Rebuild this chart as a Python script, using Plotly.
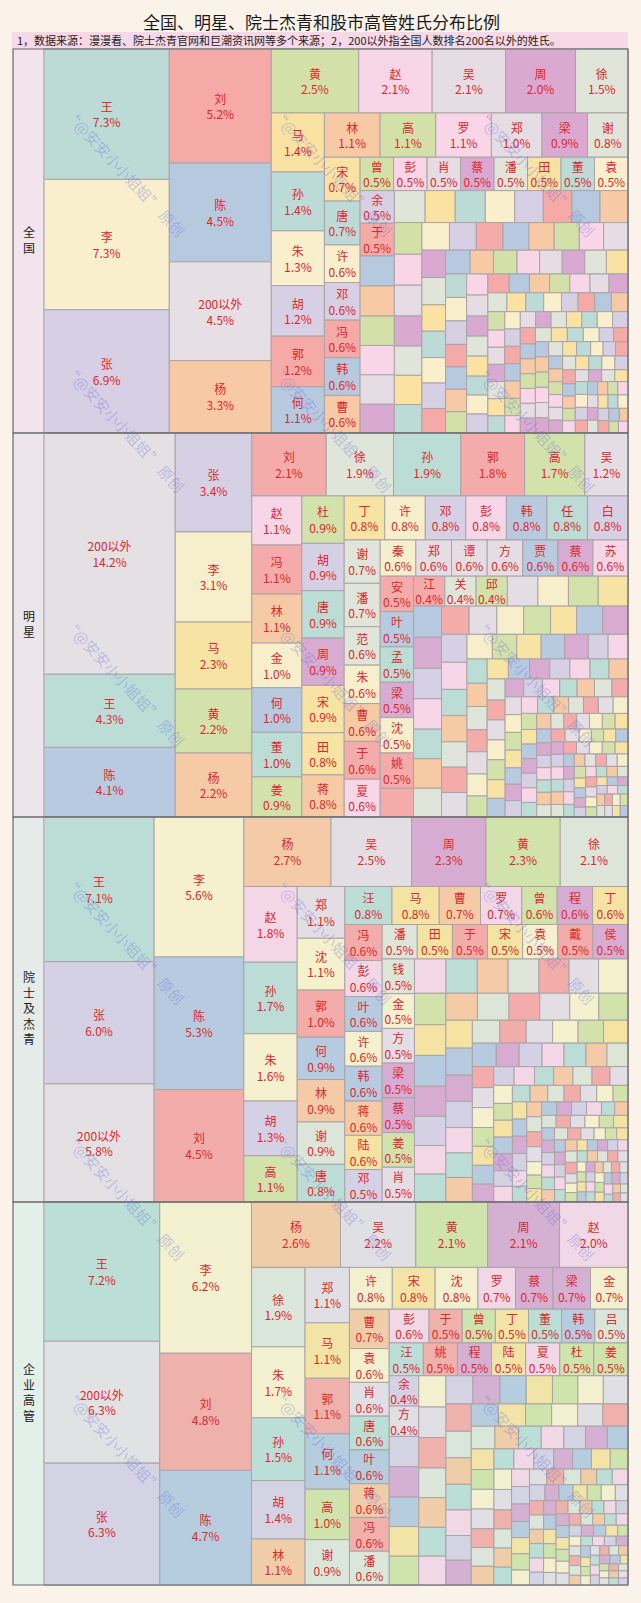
import plotly.graph_objects as go

W, H = 641, 1603
FONT = "Noto Sans CJK SC, Noto Sans, sans-serif"

TITLE = "全国、明星、院士杰青和股市高管姓氏分布比例"
SUBTITLE = "1，数据来源：漫漫看、院士杰青官网和巨潮资讯网等多个来源；2，200以外指全国人数排名200名以外的姓氏。"
PANEL_NAMES = ["全国", "明星", "院士及杰青", "企业高管"]
WATERMARK = "“@安安小小姐姐” 原创"

# ---------------- data (percent) ----------------
qg_names = ["王", "李", "张", "刘", "陈", "200以外", "杨", "黄", "赵", "吴", "周", "徐",
            "马", "孙", "朱", "胡", "郭", "何", "林", "高", "罗", "郑", "梁", "谢",
            "宋", "唐", "许", "邓", "冯", "韩", "曹", "曾", "彭", "肖", "蔡", "潘",
            "田", "董", "袁", "余", "于"]
qg_vals = [7.3, 7.3, 6.9, 5.2, 4.5, 4.5, 3.3, 2.5, 2.1, 2.1, 2.0, 1.5,
           1.4, 1.4, 1.3, 1.2, 1.2, 1.1, 1.1, 1.1, 1.1, 1.0, 0.9, 0.8,
           0.7, 0.7, 0.6, 0.6, 0.6, 0.6, 0.6, 0.5, 0.5, 0.5, 0.5, 0.5,
           0.5, 0.5, 0.5, 0.5, 0.5]
qg_small = [0.46, 0.46, 0.45, 0.45, 0.45, 0.44, 0.44, 0.43, 0.43, 0.42,
            0.41, 0.41, 0.40, 0.40, 0.39, 0.38, 0.38, 0.37, 0.36, 0.36,
            0.35, 0.34, 0.33, 0.33, 0.32, 0.31, 0.31, 0.30, 0.30, 0.29,
            0.29, 0.28, 0.28, 0.27, 0.27, 0.26, 0.26, 0.25, 0.25, 0.24,
            0.24, 0.24, 0.23, 0.23, 0.22, 0.22, 0.22, 0.21, 0.21, 0.21,
            0.20, 0.20, 0.20, 0.19, 0.19, 0.19, 0.18, 0.18, 0.18, 0.18,
            0.17, 0.17, 0.17, 0.17, 0.16, 0.16, 0.16, 0.16, 0.15, 0.15,
            0.14, 0.14, 0.14, 0.14, 0.14, 0.13, 0.13, 0.13, 0.13, 0.13,
            0.13, 0.12, 0.12, 0.12, 0.12, 0.12, 0.12, 0.12, 0.11, 0.11,
            0.11, 0.11, 0.11, 0.11, 0.11, 0.11, 0.10, 0.10, 0.10, 0.10,
            0.10, 0.10, 0.10, 0.10, 0.10, 0.10, 0.09, 0.09, 0.09, 0.09,
            0.09, 0.09, 0.09, 0.09, 0.09, 0.09, 0.09, 0.08, 0.08, 0.08,
            0.08, 0.08, 0.08, 0.08, 0.08, 0.08, 0.08, 0.08, 0.08, 0.08,
            0.08, 0.08, 0.07, 0.07, 0.07, 0.07, 0.07, 0.07, 0.07, 0.07,
            0.07, 0.07, 0.07, 0.07, 0.06, 0.06, 0.06, 0.06, 0.06, 0.06,
            0.06, 0.06, 0.06, 0.06, 0.06, 0.06, 0.06, 0.05, 0.05, 0.05]

mx_names = ["200以外", "王", "陈", "张", "李", "马", "黄", "杨", "刘", "徐", "孙", "郭",
            "高", "吴", "赵", "冯", "林", "金", "何", "董", "姜", "杜", "胡", "唐",
            "周", "宋", "田", "蒋", "丁", "许", "邓", "彭", "韩", "任", "白", "谢",
            "潘", "范", "朱", "曹", "于", "夏", "秦", "郑", "谭", "方", "贾", "蔡",
            "苏", "安", "叶", "孟", "梁", "沈", "姚", "江", "关", "邱"]
mx_vals = [14.2, 4.3, 4.1, 3.4, 3.1, 2.3, 2.2, 2.2, 2.1, 1.9, 1.9, 1.8,
           1.7, 1.22, 1.1, 1.1, 1.1, 1.0, 1.0, 1.0, 0.9, 0.9, 0.9, 0.9,
           0.9, 0.9, 0.8, 0.8, 0.8, 0.8, 0.8, 0.8, 0.8, 0.8, 0.8, 0.7,
           0.7, 0.62, 0.62, 0.61, 0.61, 0.61, 0.58, 0.58, 0.58, 0.58, 0.57, 0.57,
           0.57, 0.53, 0.53, 0.53, 0.53, 0.53, 0.53, 0.42, 0.42, 0.42]
mx_small = [0.43, 0.41, 0.41, 0.40, 0.40, 0.39, 0.39, 0.38, 0.38, 0.37, 0.37,
            0.36, 0.35, 0.35, 0.34, 0.34, 0.33, 0.33, 0.32, 0.32, 0.31,
            0.30, 0.30, 0.29, 0.29, 0.28, 0.28, 0.27, 0.27, 0.26, 0.26,
            0.22, 0.22, 0.22, 0.21, 0.21, 0.20, 0.20, 0.20, 0.19, 0.19,
            0.19, 0.18, 0.18, 0.18, 0.17, 0.17, 0.17, 0.16, 0.16, 0.16,
            0.16, 0.15, 0.15, 0.15, 0.15, 0.14, 0.14, 0.14, 0.14, 0.13,
            0.13, 0.13, 0.13, 0.13, 0.12, 0.12, 0.12, 0.12, 0.12, 0.11,
            0.11, 0.11, 0.11, 0.11, 0.11, 0.10, 0.10, 0.10, 0.10, 0.10,
            0.10, 0.10, 0.09, 0.09, 0.09, 0.09, 0.09, 0.09, 0.09, 0.08,
            0.08, 0.08, 0.08, 0.08, 0.08, 0.08, 0.08, 0.07, 0.07, 0.07,
            0.07, 0.07, 0.07, 0.07, 0.07, 0.07, 0.07, 0.07, 0.07, 0.07,
            0.07, 0.07, 0.06, 0.06, 0.06, 0.06, 0.06, 0.06, 0.06, 0.06,
            0.06, 0.06, 0.06, 0.05, 0.05, 0.05, 0.05, 0.05, 0.05, 0.05,
            0.05, 0.05, 0.05, 0.05, 0.05, 0.04, 0.04, 0.04, 0.04, 0.04,
            0.04, 0.04, 0.04, 0.04, 0.04, 0.04, 0.04, 0.04, 0.04]

ys_names = ["王", "张", "200以外", "李", "陈", "刘", "杨", "吴", "周", "黄", "徐", "赵",
            "孙", "朱", "胡", "高", "郑", "沈", "郭", "何", "林", "谢", "唐", "汪",
            "马", "曹", "罗", "曾", "程", "丁", "冯", "彭", "叶", "许", "韩", "蒋",
            "陆", "邓", "潘", "田", "于", "宋", "袁", "戴", "侯", "钱", "金", "方",
            "梁", "蔡", "姜", "肖"]
ys_vals = [7.1, 6.0, 5.8, 5.6, 5.3, 4.5, 2.7, 2.5, 2.3, 2.3, 2.1, 1.8,
           1.7, 1.6, 1.3, 1.1, 1.1, 1.1, 1.0, 0.9, 0.9, 0.9, 0.8, 0.8,
           0.8, 0.7, 0.7, 0.6, 0.6, 0.6, 0.6, 0.6, 0.58, 0.58, 0.58, 0.57,
           0.57, 0.54, 0.54, 0.54, 0.54, 0.54, 0.54, 0.54, 0.54, 0.5, 0.5, 0.5,
           0.5, 0.5, 0.5, 0.5]
ys_small = [0.48, 0.48, 0.47, 0.47, 0.46, 0.45, 0.45, 0.44, 0.43, 0.43,
            0.42, 0.41, 0.40, 0.39, 0.38, 0.38, 0.37, 0.36, 0.35, 0.35,
            0.33, 0.32, 0.31, 0.31, 0.30, 0.29, 0.29, 0.28, 0.27, 0.27,
            0.26, 0.26, 0.25, 0.25, 0.24, 0.24, 0.23, 0.23, 0.22, 0.22,
            0.20, 0.19, 0.19, 0.18, 0.18, 0.18, 0.17, 0.17, 0.17, 0.16,
            0.16, 0.16, 0.15, 0.15, 0.15, 0.14, 0.14, 0.14, 0.14, 0.13,
            0.13, 0.13, 0.13, 0.12, 0.12, 0.12, 0.12, 0.11, 0.11, 0.11,
            0.11, 0.11, 0.10, 0.10, 0.10, 0.10, 0.10, 0.10, 0.09, 0.09,
            0.09, 0.09, 0.09, 0.09, 0.09, 0.08, 0.08, 0.08, 0.08, 0.08,
            0.08, 0.08, 0.08, 0.07, 0.07, 0.07, 0.07, 0.07, 0.07, 0.07,
            0.07, 0.07, 0.06, 0.06, 0.06, 0.06, 0.06, 0.06, 0.06, 0.06,
            0.06, 0.06, 0.06, 0.05, 0.05, 0.05, 0.05, 0.05, 0.05, 0.05,
            0.05, 0.05, 0.05, 0.05, 0.05, 0.05, 0.04, 0.04, 0.04, 0.04,
            0.04, 0.04, 0.04, 0.04, 0.04, 0.04, 0.04, 0.04, 0.04, 0.04,
            0.04, 0.04, 0.04, 0.04, 0.04, 0.03, 0.03, 0.03, 0.03, 0.03]

qy_names = ["王", "200以外", "张", "李", "刘", "陈", "杨", "吴", "黄", "周", "赵", "徐",
            "朱", "孙", "胡", "林", "郑", "马", "郭", "何", "高", "谢", "许", "宋",
            "沈", "罗", "蔡", "梁", "金", "曹", "袁", "肖", "唐", "叶", "蒋", "冯",
            "潘", "彭", "于", "曾", "丁", "董", "韩", "吕", "汪", "姚", "程", "陆",
            "夏", "杜", "姜", "余", "方"]
qy_vals = [7.2, 6.3, 6.3, 6.2, 4.8, 4.7, 2.6, 2.2, 2.1, 2.1, 2.0, 1.9,
           1.7, 1.5, 1.4, 1.1, 1.1, 1.1, 1.1, 1.1, 1.0, 0.9, 0.8, 0.8,
           0.8, 0.7, 0.7, 0.7, 0.7, 0.7, 0.6, 0.6, 0.6, 0.6, 0.6, 0.6,
           0.6, 0.6, 0.5, 0.5, 0.5, 0.5, 0.5, 0.5, 0.5, 0.5, 0.5, 0.5,
           0.5, 0.5, 0.5, 0.4, 0.4]
qy_small = [0.40, 0.40, 0.39, 0.39, 0.38, 0.38, 0.37, 0.37, 0.36, 0.36,
            0.35, 0.35, 0.34, 0.34, 0.33, 0.33, 0.32, 0.32, 0.31, 0.31,
            0.30, 0.30, 0.29, 0.29, 0.28, 0.28, 0.27, 0.27, 0.26, 0.26,
            0.25, 0.25, 0.24, 0.24, 0.23, 0.23, 0.22, 0.22, 0.21, 0.21,
            0.20, 0.20, 0.20, 0.19, 0.19, 0.19, 0.18, 0.18, 0.18, 0.17,
            0.17, 0.17, 0.16, 0.16, 0.16, 0.15, 0.15, 0.15, 0.14, 0.14,
            0.14, 0.14, 0.13, 0.13, 0.13, 0.12, 0.12, 0.12, 0.12, 0.11,
            0.11, 0.11, 0.11, 0.10, 0.10, 0.10, 0.10, 0.10, 0.09, 0.09,
            0.09, 0.09, 0.09, 0.09, 0.08, 0.08, 0.08, 0.08, 0.08, 0.08,
            0.07, 0.07, 0.07, 0.07, 0.07, 0.07, 0.07, 0.07, 0.07, 0.07,
            0.07, 0.07, 0.07, 0.06, 0.06, 0.06, 0.06, 0.06, 0.06, 0.06,
            0.06, 0.06, 0.05, 0.05, 0.05, 0.05, 0.05, 0.05, 0.05, 0.05,
            0.05, 0.05, 0.05, 0.04, 0.04, 0.04, 0.04, 0.04, 0.04, 0.04,
            0.04, 0.04, 0.04, 0.04, 0.04, 0.03, 0.03, 0.03, 0.03, 0.03,
            0.03, 0.03, 0.03, 0.03, 0.03]

# national ranking order, used only to pick each surname's colour
nat_order = ["王", "李", "张", "刘", "陈", "杨", "黄", "赵", "吴", "周", "徐", "马", "孙", "朱",
             "胡", "郭", "何", "林", "高", "罗", "郑", "梁", "谢", "宋", "唐", "许", "邓", "冯",
             "韩", "曹", "曾", "彭", "肖", "蔡", "潘", "田", "董", "袁", "余", "于", "叶", "蒋",
             "杜", "苏", "魏", "程", "吕", "丁", "任", "沈", "卢", "姚", "傅", "钟", "姜", "崔",
             "谭", "廖", "范", "陆", "汪", "金", "石", "戴", "贾", "韦", "付", "夏", "方", "邹",
             "熊", "毛", "孟", "秦", "白", "江", "闫", "薛", "邱", "尹", "段", "侯", "钱", "雷",
             "黎", "史", "龙", "安", "陶", "贺", "顾", "郝", "龚", "邵", "关"]

# ---------------- styling ----------------
PALETTE = ["#bddbd6", "#f9efcc", "#d7cfe4", "#f5aaa8", "#b7c9df", "#f7c9a4",
           "#d3e1a9", "#f8d5e7", "#e6dce4", "#d9a9d1", "#e0e4d9", "#f9e2a2"]
OTHER_COLOR = "#e6dfe3"
TINT = "#a0ffe0"
TEXT_RED = "#e0262b"


def hex2rgb(h):
    h = h.lstrip("#")
    return [int(h[i:i + 2], 16) for i in (0, 2, 4)]


def blend(c, t, a):
    c1, c2 = hex2rgb(c), hex2rgb(t)
    return "#%02x%02x%02x" % tuple(round(c1[i] * (1 - a) + c2[i] * a) for i in range(3))


def px(x):
    return x / W


def py(y):
    return 1 - y / H


panels = [
    (qg_names, qg_vals, qg_small, 0.00, 49, 433, 40, 1, "#f1e4ed"),
    (mx_names, mx_vals, mx_small, 0.02, 433, 817, 3, 5, "#ece6ea"),
    (ys_names, ys_vals, ys_small, 0.04, 817, 1202, 7, 5, "#e5ebe8"),
    (qy_names, qy_vals, qy_small, 0.08, 1202, 1585, 2, 7, "#e3efe9"),
]

X0, XL, X1 = 13, 44, 628

fig = go.Figure()
shapes = []
annotations = []

for pi, (names, vals, small, ta, y0, y1, off, step, colbg) in enumerate(panels):
    ids, labels, parents, values, texts, colors = ["root"], [""], [""], [0], [""], ["#e8e2e4"]
    for n, v in zip(names, vals):
        ids.append(n)
        labels.append(n)
        parents.append("root")
        values.append(v)
        texts.append(f"{n}<br>{v:.1f}%")
        base = OTHER_COLOR if n == "200以外" else PALETTE[nat_order.index(n) % 12]
        colors.append(blend(base, TINT, ta))
    for k, v in enumerate(small):
        ids.append(f"s{k}")
        labels.append(f"s{k}")
        parents.append("root")
        values.append(v)
        texts.append("")
        colors.append(blend(PALETTE[(off + k * step) % 12], TINT, ta))

    fig.add_trace(go.Treemap(
        ids=ids, labels=labels, parents=parents, values=values, text=texts,
        texttemplate="%{text}", textposition="middle center",
        textfont=dict(family=FONT, size=12, color=TEXT_RED),
        insidetextfont=dict(family=FONT, size=12, color=TEXT_RED),
        marker=dict(colors=colors, line=dict(color="#aaa4a7", width=1),
                    pad=dict(t=0, l=0, r=0, b=0)),
        tiling=dict(packing="squarify", squarifyratio=1, pad=0),
        pathbar=dict(visible=False),
        sort=True, hoverinfo="skip",
        domain=dict(x=[px(XL), px(X1)], y=[py(y1), py(y0)]),
    ))

    # label column
    shapes.append(dict(type="rect", xref="paper", yref="paper", layer="below",
                       x0=px(X0), x1=px(XL), y0=py(y1), y1=py(y0),
                       fillcolor=colbg, line=dict(width=0)))
    shapes.append(dict(type="line", xref="paper", yref="paper", layer="above",
                       x0=px(XL), x1=px(XL), y0=py(y1), y1=py(y0),
                       line=dict(color="#c4bfc1", width=1)))
    shapes.append(dict(type="rect", xref="paper", yref="paper", layer="above",
                       x0=px(X0), x1=px(X1), y0=py(y1), y1=py(y0),
                       line=dict(color="#6a6a6a", width=1.2)))
    annotations.append(dict(text="<br>".join(PANEL_NAMES[pi]),
                            x=px((X0 + XL) / 2), y=py((y0 + y1) / 2 - 2),
                            xref="paper", yref="paper", showarrow=False,
                            xanchor="center", yanchor="middle", align="center",
                            font=dict(family=FONT, size=12, color="#1a1a1a")))

# subtitle bar
shapes.append(dict(type="rect", xref="paper", yref="paper", layer="below",
                   x0=px(12), x1=px(628), y0=py(49), y1=py(32),
                   fillcolor="#f7d8e7", line=dict(width=0)))

annotations.append(dict(text=TITLE, x=px(321), y=py(22), xref="paper", yref="paper",
                        showarrow=False, xanchor="center", yanchor="middle",
                        font=dict(family=FONT, size=17, color="#1a1a1a")))
annotations.append(dict(text=SUBTITLE, x=px(15), y=py(40.5), xref="paper", yref="paper",
                        showarrow=False, xanchor="left", yanchor="middle",
                        font=dict(family=FONT, size=11, color="#222222")))

# watermarks
wm_x = [125, 332, 535]
wm_y = [173, 428, 682, 940, 1196, 1453]
for wy in wm_y:
    for wx in wm_x:
        annotations.append(dict(text=WATERMARK, x=px(wx), y=py(wy), xref="paper",
                                yref="paper", showarrow=False, xanchor="center",
                                yanchor="middle", textangle=47,
                                font=dict(family=FONT, size=15,
                                          color="rgba(95,105,215,0.33)")))

fig.update_layout(
    width=W, height=H, autosize=False,
    margin=dict(l=0, r=0, t=0, b=0, pad=0),
    paper_bgcolor="#fbf2ea", plot_bgcolor="#fbf2ea",
    uniformtext=dict(minsize=12, mode="show"),
    shapes=shapes, annotations=annotations,
    showlegend=False,
)

fig.write_html("out.html", config={"displayModeBar": False},
               post_script="document.body.style.margin='0';document.body.style.overflow='hidden';")
